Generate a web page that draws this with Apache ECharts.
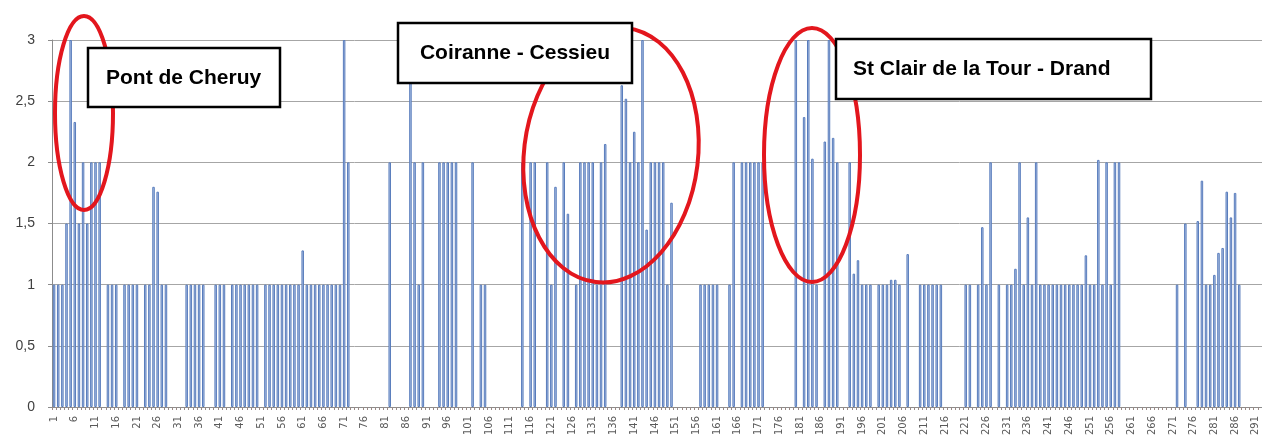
<!DOCTYPE html>
<html>
<head>
<meta charset="utf-8">
<script src="https://cdn.jsdelivr.net/npm/echarts@6/dist/echarts.min.js"></script>
<style>
  html, body { margin: 0; padding: 0; background: #fff; }
  #main { width: 1262px; height: 447px; }
</style>
</head>
<body>
<div id="main"></div>
<script>
// valeurs, par tranches de 50 catégories
const vals1 = [1, 1, 1, 1.5, 3, 2.33, 1.5, 2, 1.5, 2,
  2, 2, 0, 1, 1, 1, 0, 1, 1, 1,
  1, 0, 1, 1, 1.8, 1.76, 1, 1, 0, 0,
  0, 0, 1, 1, 1, 1, 1, 0, 0, 1,
  1, 1, 0, 1, 1, 1, 1, 1, 1, 1];
const vals2 = [0, 1, 1, 1, 1, 1, 1, 1, 1, 1,
  1.28, 1, 1, 1, 1, 1, 1, 1, 1, 1,
  3, 2, 0, 0, 0, 0, 0, 0, 0, 0,
  0, 2, 0, 0, 0, 0, 3, 2, 1, 2,
  0, 0, 0, 2, 2, 2, 2, 2, 0, 0];
const vals3 = [0, 2, 0, 1, 1, 0, 0, 0, 0, 0,
  0, 0, 0, 2, 0, 2, 2, 0, 0, 2,
  1, 1.8, 0, 2, 1.58, 0, 1, 2, 2, 2,
  2, 1, 2, 2.15, 0, 0, 0, 2.63, 2.52, 2,
  2.25, 2, 3, 1.45, 2, 2, 2, 2, 1, 1.67];
const vals4 = [0, 0, 0, 0, 0, 0, 1, 1, 1, 1,
  1, 0, 0, 1, 2, 0, 2, 2, 2, 2,
  2, 2, 0, 0, 0, 0, 0, 0, 0, 3,
  0, 2.37, 3, 2.03, 1, 0, 2.17, 3, 2.2, 2,
  0, 0, 2, 1.09, 1.2, 1, 1, 1, 0, 1];
const vals5 = [1, 1, 1.04, 1.04, 1, 0, 1.25, 0, 0, 1,
  1, 1, 1, 1, 1, 0, 0, 0, 0, 0,
  1, 1, 0, 1, 1.47, 1, 2, 0, 1, 0,
  1, 1, 1.13, 2, 1, 1.55, 1, 2, 1, 1,
  1, 1, 1, 1, 1, 1, 1, 1, 1, 1.24];
const vals6 = [1, 1, 2.02, 1, 2, 1, 2, 2, 0, 0,
  0, 0, 0, 0, 0, 0, 0, 0, 0, 0,
  0, 1, 0, 1.5, 0, 0, 1.52, 1.85, 1, 1,
  1.08, 1.26, 1.3, 1.76, 1.55, 1.75, 1, 0, 0, 0,
  0, 0];

const values = vals1.concat(vals2, vals3, vals4, vals5, vals6);
const categories = values.map((v, i) => String(i + 1));

const chart = echarts.init(document.getElementById('main'));

const red = '#e3161d';
const boxFont = 'bold 21px "Liberation Sans", Arial, sans-serif';

let option = {
  animation: false,
  backgroundColor: '#fff',
  grid: {
    left: 52,
    right: 0,
    top: 40,
    bottom: 40
  },
  xAxis: {
    type: 'category',
    data: categories,
    axisLine: { lineStyle: { color: '#8c8c8c', width: 1 } },
    axisTick: { show: true, interval: 0, length: 3, lineStyle: { color: '#9a8a86' } },
    axisLabel: {
      interval: 4,
      rotate: 90,
      margin: 9,
      fontSize: 10,
      color: '#5a5a5a',
      fontFamily: 'DejaVu Sans'
    },
    splitLine: { show: false }
  },
  yAxis: {
    type: 'value',
    min: 0,
    max: 3,
    interval: 0.5,
    axisLine: { show: true, lineStyle: { color: '#8c8c8c' } },
    axisTick: { show: true, length: 4, lineStyle: { color: '#8c8c8c' } },
    axisLabel: {
      fontSize: 14,
      color: '#404040',
      margin: 17,
      fontFamily: 'Liberation Sans',
      formatter: (v) => String(v).replace('.', ',')
    },
    splitLine: { lineStyle: { color: '#a6a6a6', width: 1 } }
  },
  series: [{
    type: 'bar',
    data: values.map(v => (v === 0 ? '-' : v)),
    barWidth: 2.5,
    itemStyle: {
      color: '#b3c5e6',
      borderColor: '#587cbc',
      borderWidth: 1
    }
  }],
  graphic: [
    // ellipses rouges
    { type: 'ellipse', x: 84, y: 113, z: 10, shape: { cx: 0, cy: 0, rx: 29, ry: 97 },
      style: { fill: 'none', stroke: red, lineWidth: 4 } },
    { type: 'ellipse', x: 611, y: 155, z: 10, rotation: -0.12, shape: { cx: 0, cy: 0, rx: 87, ry: 128 },
      style: { fill: 'none', stroke: red, lineWidth: 4 } },
    { type: 'ellipse', x: 812, y: 155, z: 10, shape: { cx: 0, cy: 0, rx: 48, ry: 127 },
      style: { fill: 'none', stroke: red, lineWidth: 4 } },
    // encadrés
    { type: 'rect', z: 20, shape: { x: 88, y: 48, width: 192, height: 59 },
      style: { fill: '#fff', stroke: '#000', lineWidth: 2.5 } },
    { type: 'text', z: 21, x: 106, y: 78,
      style: { text: 'Pont de Cheruy', font: boxFont, fill: '#000', align: 'left', verticalAlign: 'middle' } },
    { type: 'rect', z: 20, shape: { x: 398, y: 23, width: 234, height: 60 },
      style: { fill: '#fff', stroke: '#000', lineWidth: 2.5 } },
    { type: 'text', z: 21, x: 515, y: 53,
      style: { text: 'Coiranne - Cessieu', font: boxFont, fill: '#000', align: 'center', verticalAlign: 'middle' } },
    { type: 'rect', z: 20, shape: { x: 836, y: 39, width: 315, height: 60 },
      style: { fill: '#fff', stroke: '#000', lineWidth: 2.5 } },
    { type: 'text', z: 21, x: 853, y: 69,
      style: { text: 'St Clair de la Tour - Drand', font: boxFont, fill: '#000', align: 'left', verticalAlign: 'middle' } }
  ]
};

chart.setOption(option);
</script>
</body>
</html>
